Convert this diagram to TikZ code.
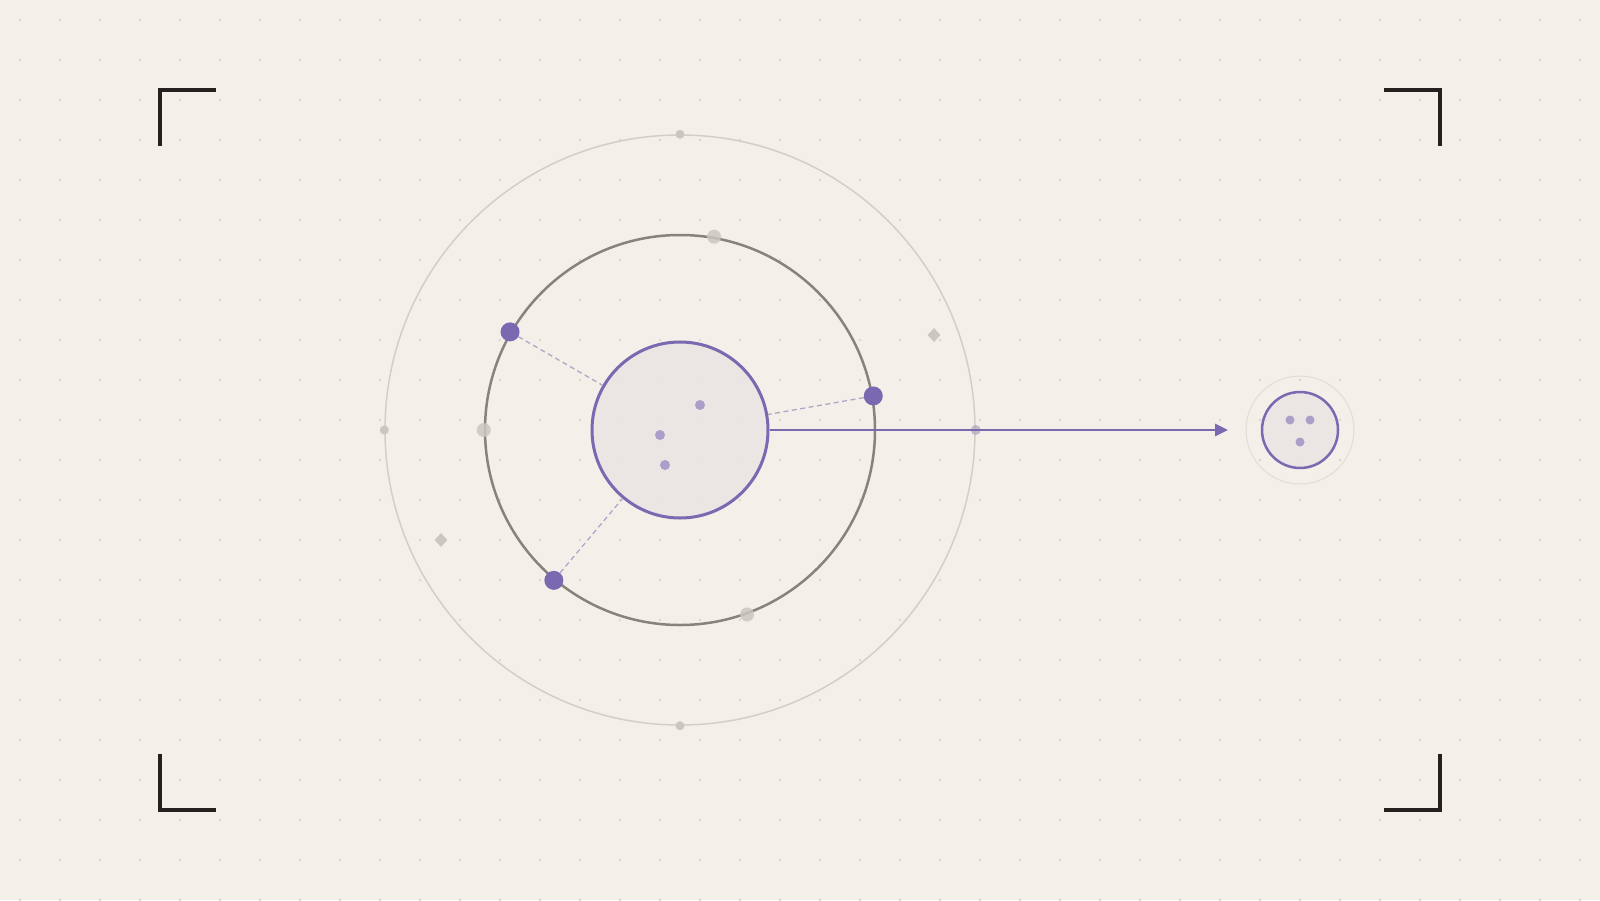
\documentclass[tikz,border=0pt]{standalone}
\usetikzlibrary{arrows.meta,shapes.geometric}
\definecolor{bg}{HTML}{F3EFE9}
\definecolor{griddot}{HTML}{DAD5CE}
\definecolor{outerring}{HTML}{D2CEC8}
\definecolor{midring}{HTML}{86827C}
\definecolor{greydot}{HTML}{CAC6C0}
\definecolor{purp}{HTML}{7A68B0}
\definecolor{lpurp}{HTML}{AB9FCA}
\definecolor{dashc}{HTML}{B0A7C7}
\definecolor{innerfill}{HTML}{EAE5E4}
\definecolor{bracketc}{HTML}{23201D}
\definecolor{faintring}{HTML}{E0DCD6}
\tikzset{
  ring/.style={circle, inner sep=0pt, minimum size=#1},
  pdot/.style={circle, fill=purp, inner sep=0pt, minimum size=19pt},
  ldot/.style={circle, fill=lpurp, inner sep=0pt, minimum size=10pt},
  gdot/.style={circle, fill=greydot, inner sep=0pt, minimum size=#1},
  gem/.style={diamond, fill=greydot, inner sep=0pt, minimum width=13pt, minimum height=14pt},
  spoke/.style={draw=dashc, line width=1.3pt, dash pattern=on 5pt off 3.5pt},
  bracket/.style={draw=bracketc, line width=3.2pt},
}
\begin{document}
\begin{tikzpicture}[x=1pt,y=-1pt]
\useasboundingbox (0,0) rectangle (1600,900);
\fill[bg] (0,0) rectangle (1600,900);
% dot grid
\foreach \i in {0,...,39}{
  \foreach \j in {0,...,22}{
    \fill[griddot] (20+40*\i,20+40*\j) circle (1.3pt);
  }
}
% corner brackets
\draw[bracket] (160,146) -- (160,90) -- (216,90);
\draw[bracket] (1384,90) -- (1440,90) -- (1440,146);
\draw[bracket] (160,754) -- (160,810) -- (216,810);
\draw[bracket] (1384,810) -- (1440,810) -- (1440,754);
% rings
\node[ring=590pt, draw=outerring, line width=1.5pt] (outer) at (680,430) {};
\node[ring=390pt, draw=midring, line width=2.5pt] (mid) at (680,430) {};
% grey markers on rings
\node[gdot=9pt] (o1) at (outer.north) {};
\node[gdot=9pt] (o2) at (outer.west) {};
\node[gdot=9pt] (o3) at (outer.south) {};
\node[gdot=10pt, fill=purp!25!greydot, opacity=0.8] (o4) at (outer.east) {};
\node[gdot=14pt, opacity=0.85] (m1) at (mid.80) {};
\node[gdot=14pt, opacity=0.85] (m2) at (mid.west) {};
\node[gdot=14pt, opacity=0.85] (m3) at (mid.-70) {};
% diamonds
\node[gem] (d1) at (934,335) {};
\node[gem] (d2) at (441,540) {};
% inner circle
\node[ring=176pt, draw=purp, line width=3pt, fill=innerfill, fill opacity=0.85] (inner) at (680,430) {};
\node[ldot] (i1) at (700,405) {};
\node[ldot] (i2) at (660,435) {};
\node[ldot] (i3) at (665,465) {};
% purple satellites
\node[pdot] (p1) at (mid.150) {};
\node[pdot] (p2) at (mid.10) {};
\node[pdot] (p3) at (mid.230) {};
\draw[spoke] (p1) -- (inner);
\draw[spoke] (p2) -- (inner);
\draw[spoke] (p3) -- (inner);
% arrow
\coordinate (tip) at (1228,430);
\draw[purp, line width=2.6pt, -{Triangle[length=13pt,width=12pt]}] (inner.east) -- (tip);
% small target
\node[ring=108pt, draw=faintring, line width=1pt] (sring) at (1300,430) {};
\node[ring=76pt, draw=purp, line width=2.5pt, fill=innerfill, fill opacity=0.85] (small) at (1300,430) {};
\node[ldot, minimum size=9pt] (s1) at (1290,420) {};
\node[ldot, minimum size=9pt] (s2) at (1310,420) {};
\node[ldot, minimum size=9pt] (s3) at (1300,442) {};
\end{tikzpicture}
\end{document}
